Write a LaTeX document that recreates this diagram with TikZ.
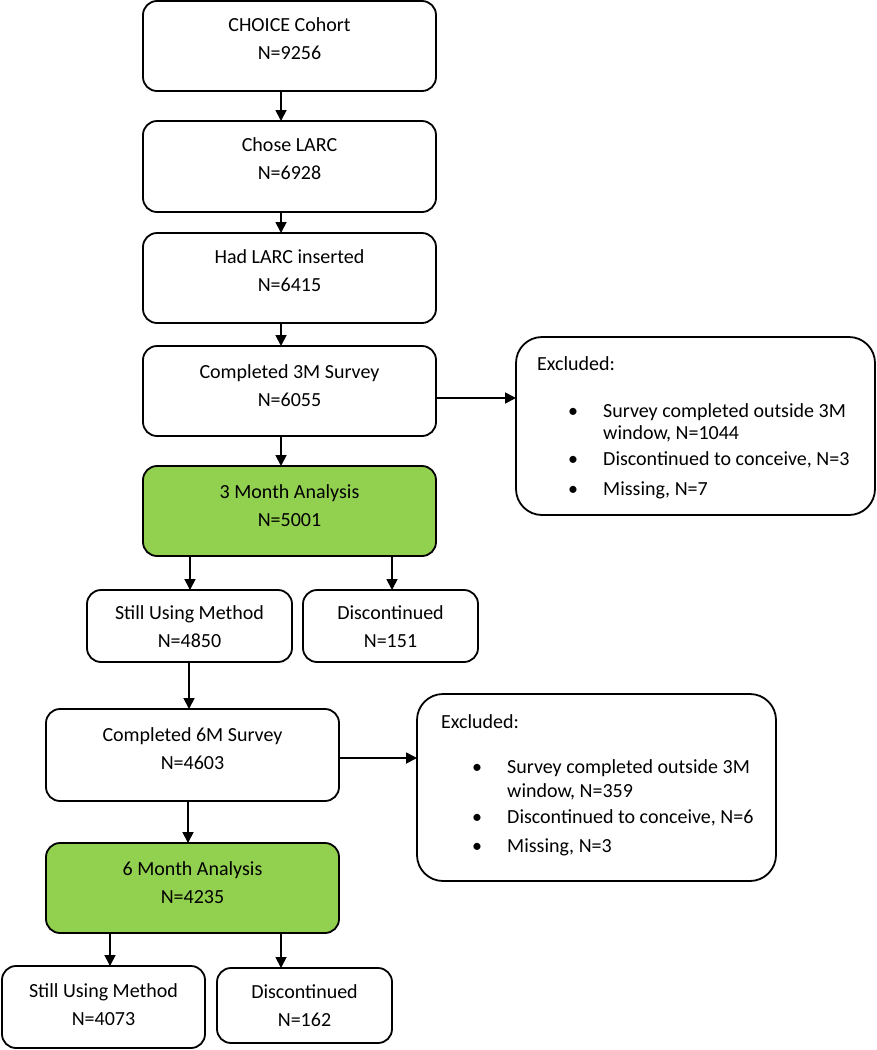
\documentclass[tikz,border=0pt]{standalone}
\usepackage{fontspec}
\setmainfont{Carlito}
\usetikzlibrary{arrows.meta}
\definecolor{boxgreen}{HTML}{92D050}
\tikzset{
  flowbox/.style={draw=black, line width=1.8pt, rounded corners=14pt, fill=white, inner sep=0pt, outer sep=0pt},
  greenbox/.style={flowbox, fill=boxgreen},
  exbox/.style={draw=black, line width=1.8pt, rounded corners=26pt, fill=white, inner sep=0pt, outer sep=0pt},
  txt/.style={align=center, inner sep=0pt, font=\fontsize{20}{28}\selectfont},
  ltxt/.style={anchor=west, inner sep=0pt, text height=14pt, text depth=4pt, font=\fontsize{20}{24}\selectfont},
  arr/.style={line width=1.8pt, -{Triangle[length=11pt,width=11pt]}}
}
\begin{document}
\begin{tikzpicture}[x=1pt,y=-1pt]
\useasboundingbox (0,0) rectangle (877,1050);
% main column
\node[flowbox, minimum width=293pt, minimum height=90pt] (A) at (289.5,46) {};
\node[txt] (At) at (289.5,39) {CHOICE Cohort\\N=9256};
\node[flowbox, minimum width=293pt, minimum height=91pt] (B) at (289.5,166.5) {};
\node[txt] (Bt) at (289.5,159) {Chose LARC\\N=6928};
\node[flowbox, minimum width=293pt, minimum height=90pt] (C) at (289.5,278) {};
\node[txt] (Ct) at (289.5,271) {Had LARC inserted\\N=6415};
\node[flowbox, minimum width=293pt, minimum height=90pt] (D) at (289.5,391) {};
\node[txt] (Dt) at (289.5,386) {Completed 3M Survey\\N=6055};
\node[greenbox, minimum width=293pt, minimum height=90pt] (E) at (289.5,511) {};
\node[txt] (Et) at (289.5,506) {3 Month Analysis\\N=5001};
% excluded 1
\node[exbox, minimum width=359pt, minimum height=178pt] (X1) at (695.5,426) {};
\node[ltxt] (X1a) at (537,365) {Excluded:};
\node[ltxt] (X1b1) at (568,412) {•};
\node[ltxt] (X1b) at (603,412) {Survey completed outside 3M};
\node[ltxt] (X1c) at (603,434) {window, N=1044};
\node[ltxt] (X1d1) at (568,460) {•};
\node[ltxt] (X1d) at (603,460) {Discontinued to conceive, N=3};
\node[ltxt] (X1e1) at (568,490) {•};
\node[ltxt] (X1e) at (603,490) {Missing, N=7};
% 3 month split
\node[flowbox, minimum width=205pt, minimum height=72pt] (F) at (189.5,626) {};
\node[txt] (Ft) at (189.5,626.5) {Still Using Method\\N=4850};
\node[flowbox, minimum width=175pt, minimum height=72pt] (G) at (390.5,626) {};
\node[txt] (Gt) at (390.5,626.5) {Discontinued\\N=151};
% 6 month
\node[flowbox, minimum width=293pt, minimum height=92pt] (H) at (192.5,755) {};
\node[txt] (Ht) at (192.5,749) {Completed 6M Survey\\N=4603};
\node[exbox, minimum width=359pt, minimum height=187pt] (X2) at (596.5,787.5) {};
\node[ltxt] (X2a) at (441,723) {Excluded:};
\node[ltxt] (X2b1) at (472,768) {•};
\node[ltxt] (X2b) at (507,768) {Survey completed outside 3M};
\node[ltxt] (X2c) at (507,792) {window, N=359};
\node[ltxt] (X2d1) at (472,818) {•};
\node[ltxt] (X2d) at (507,818) {Discontinued to conceive, N=6};
\node[ltxt] (X2e1) at (472,847) {•};
\node[ltxt] (X2e) at (507,847) {Missing, N=3};
\node[greenbox, minimum width=293pt, minimum height=90pt] (I) at (192.5,888) {};
\node[txt] (It) at (192.5,882.5) {6 Month Analysis\\N=4235};
\node[flowbox, minimum width=203pt, minimum height=82pt] (J) at (103.5,1007) {};
\node[txt] (Jt) at (103.5,1005) {Still Using Method\\N=4073};
\node[flowbox, minimum width=175pt, minimum height=75pt] (K) at (304.5,1005.5) {};
\node[txt] (Kt) at (304.5,1006) {Discontinued\\N=162};
% arrow x positions
\coordinate (ax) at (281,0);
\coordinate (ex1) at (190,0);
\coordinate (ex2) at (392,0);
\coordinate (fx) at (189,0);
\coordinate (hx) at (188,0);
\coordinate (ix1) at (110,0);
\coordinate (ix2) at (281,0);
\coordinate (dy) at (0,398);
\coordinate (hy) at (0,758);
% connectors
\draw[arr] (A.south -| ax) -- (B.north -| ax);
\draw[arr] (B.south -| ax) -- (C.north -| ax);
\draw[arr] (C.south -| ax) -- (D.north -| ax);
\draw[arr] (D.south -| ax) -- (E.north -| ax);
\draw[arr] (D.east |- dy) -- (X1.west |- dy);
\draw[arr] (E.south -| ex1) -- (F.north -| ex1);
\draw[arr] (E.south -| ex2) -- (G.north -| ex2);
\draw[arr] (F.south -| fx) -- (H.north -| fx);
\draw[arr] (H.east |- hy) -- (X2.west |- hy);
\draw[arr] (H.south -| hx) -- (I.north -| hx);
\draw[arr] (I.south -| ix1) -- (J.north -| ix1);
\draw[arr] (I.south -| ix2) -- (K.north -| ix2);
\end{tikzpicture}
\end{document}
